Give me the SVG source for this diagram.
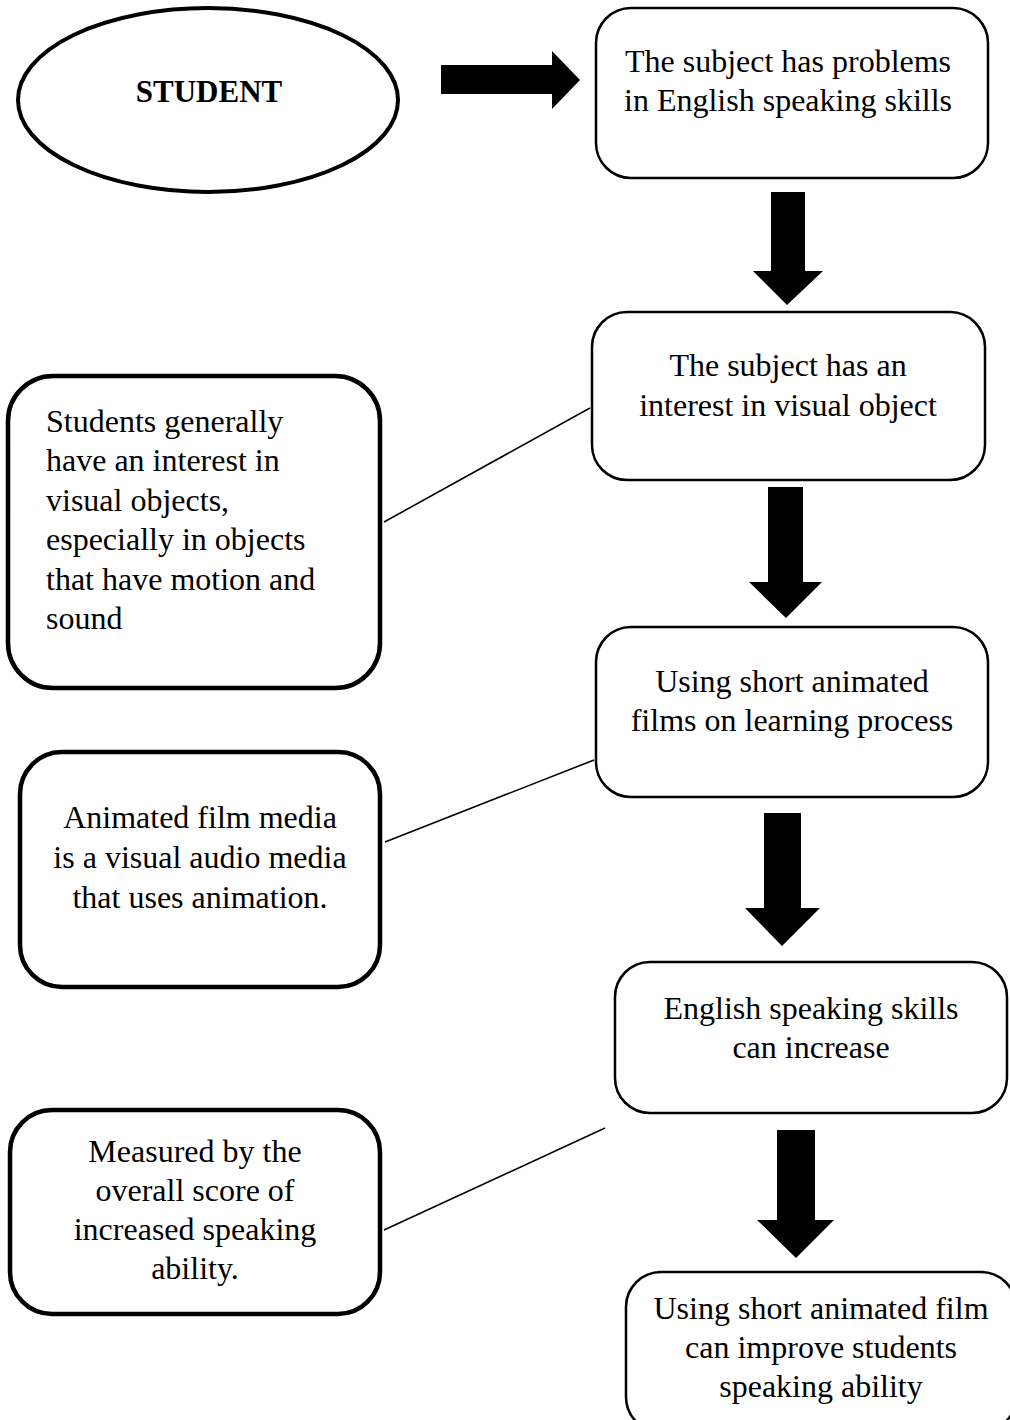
<svg xmlns="http://www.w3.org/2000/svg" width="1010" height="1420" viewBox="0 0 1010 1420">
<style>
text{font-family:"Liberation Serif","Times New Roman",serif;font-size:32px;fill:#000}
.c{text-anchor:middle}
.b{font-weight:bold;font-size:31px}
.box{fill:#fff;stroke:#000;stroke-width:2.5}
.thick{fill:#fff;stroke:#000;stroke-width:4.5}
.link{stroke:#000;stroke-width:1.6;fill:none}
.arr{fill:#000}
</style>
<rect width="1010" height="1420" fill="#fff"/>
<g id="connectors">
<polygon class="arr" points="441,65 552,65 552,51 580,80 552,109 552,94 441,94"/>
<polygon class="arr" points="771,192 805,192 805,271 823,271 787,305 753,271 771,271"/>
<polygon class="arr" points="768,487 803,487 803,582 822,582 786,618 749,582 768,582"/>
<polygon class="arr" points="764,813 801,813 801,908 820,908 782,946 745,908 764,908"/>
<polygon class="arr" points="777,1130 815,1130 815,1220 834,1220 796,1258 757,1220 777,1220"/>
<line class="link" x1="384" y1="522" x2="590" y2="408"/>
<line class="link" x1="385" y1="842" x2="594" y2="760"/>
<line class="link" x1="384" y1="1230" x2="605" y2="1128"/>
</g>
<g id="student">
<ellipse cx="208" cy="100" rx="190" ry="92" fill="#fff" stroke="#000" stroke-width="4"/>
<text class="c b" x="209" y="102">STUDENT</text>
</g>
<g id="box1">
<rect class="box" x="596" y="8" width="392" height="170" rx="35"/>
<text class="c" x="788" y="72">The subject has problems</text>
<text class="c" x="788" y="111">in English speaking skills</text>
</g>
<g id="box2">
<rect class="box" x="592" y="312" width="393" height="168" rx="35"/>
<text class="c" x="788" y="376">The subject has an</text>
<text class="c" x="788" y="416">interest in visual object</text>
</g>
<g id="box3">
<rect class="box" x="596" y="627" width="392" height="170" rx="35"/>
<text class="c" x="792" y="692">Using short animated</text>
<text class="c" x="792" y="731">films on learning process</text>
</g>
<g id="box4">
<rect class="box" x="615" y="962" width="392" height="151" rx="35"/>
<text class="c" x="811" y="1019">English speaking skills</text>
<text class="c" x="811" y="1058">can increase</text>
</g>
<g id="box5">
<rect class="box" x="626" y="1272" width="390" height="160" rx="35"/>
<text class="c" x="821" y="1319">Using short animated film</text>
<text class="c" x="821" y="1358">can improve students</text>
<text class="c" x="821" y="1397">speaking ability</text>
</g>
<g id="note1">
<rect class="thick" x="8" y="376" width="372" height="312" rx="45"/>
<text x="46" y="432">Students generally</text>
<text x="46" y="471">have an interest in</text>
<text x="46" y="511">visual objects,</text>
<text x="46" y="550">especially in objects</text>
<text x="46" y="590">that have motion and</text>
<text x="46" y="629">sound</text>
</g>
<g id="note2">
<rect class="thick" x="20" y="752" width="360" height="235" rx="42"/>
<text class="c" x="200" y="828">Animated film media</text>
<text class="c" x="200" y="868">is a visual audio media</text>
<text class="c" x="200" y="908">that uses animation.</text>
</g>
<g id="note3">
<rect class="thick" x="10" y="1110" width="370" height="204" rx="42"/>
<text class="c" x="195" y="1162">Measured by the</text>
<text class="c" x="195" y="1201">overall score of</text>
<text class="c" x="195" y="1240">increased speaking</text>
<text class="c" x="195" y="1279">ability.</text>
</g>
</svg>
